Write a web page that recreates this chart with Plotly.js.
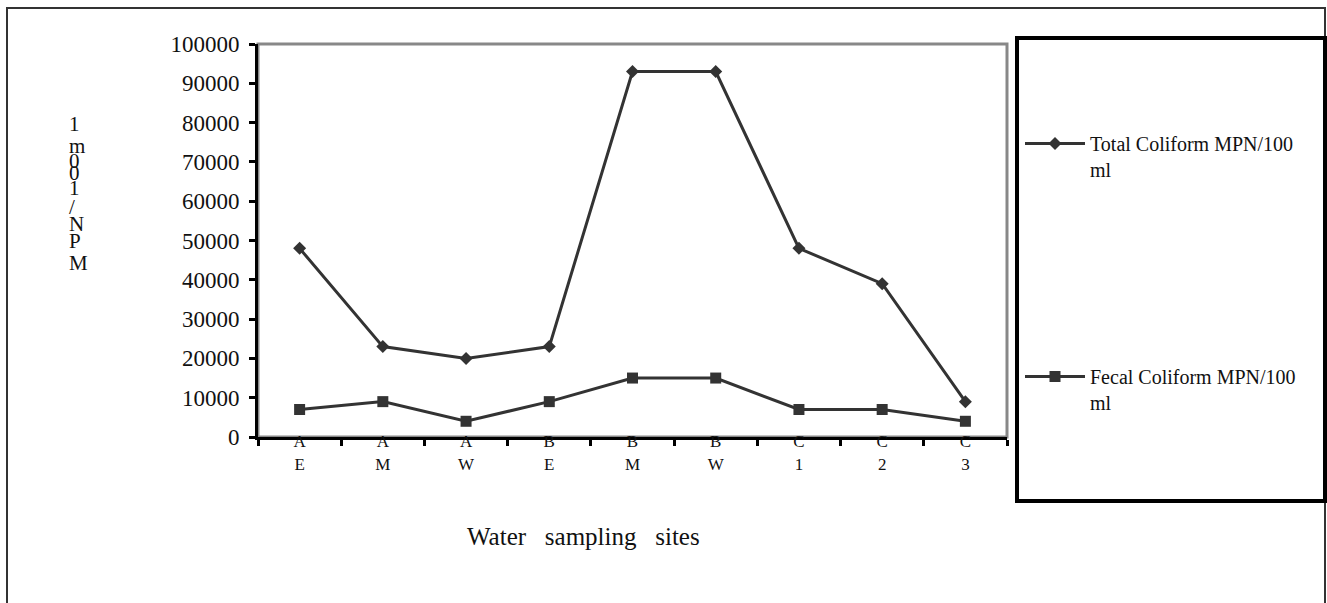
<!DOCTYPE html>
<html>
<head>
<meta charset="utf-8">
<script src="https://cdn.plot.ly/plotly-3.0.1.min.js"></script>
<style>html,body{margin:0;padding:0;background:#fff;}#chart{width:1327px;height:603px;}</style>
</head>
<body>
<div id="chart"></div>
<script>
const categories = ["AE","AM","AW","BE","BM","BW","C1","C2","C3"];
const tickLabels = ["A<br>E","A<br>M","A<br>W","B<br>E","B<br>M","B<br>W","C<br>1","C<br>2","C<br>3"];
const totalColiform = [48000,23000,20000,23000,93000,93000,48000,39000,9000];
const fecalColiform = [7000,9000,4000,9000,15000,15000,7000,7000,4000];
const yTicks = [0,10000,20000,30000,40000,50000,60000,70000,80000,90000,100000];
const yTitleChars = ["1","m","0","0","1","/","N","P","M"];
const yTitleCharPx = [124,146,161,173,188,207,224,241,263];

const serif = "Liberation Serif, Times New Roman, serif";
const lineColor = "#333333";

const traces = [
  {x: categories, y: totalColiform, type: "scatter", mode: "lines+markers",
   name: "Total Coliform MPN/100<br>ml", line: {color: lineColor, width: 3},
   marker: {symbol: "diamond", size: 10, color: lineColor}, legend: "legend"},
  {x: categories, y: fecalColiform, type: "scatter", mode: "lines+markers",
   name: "Fecal Coliform MPN/100<br>ml", line: {color: lineColor, width: 3},
   marker: {symbol: "square", size: 11, color: lineColor}, legend: "legend2"}
];

// plot area in pixels
const L = 258, R = 1007, T = 44, B = 437;
const W = R - L, H = B - T;
const px = v => (v - L) / W;
const py = v => (B - v) / H;

const annotations = yTitleChars.map((c, i) => ({
  text: c, xref: "paper", yref: "paper", x: px(67), y: py(yTitleCharPx[i]),
  xanchor: "left", yanchor: "middle", showarrow: false,
  font: {family: serif, size: 21, color: "#111"}
}));
annotations.push({
  text: "Water&nbsp;&nbsp;&nbsp;sampling&nbsp;&nbsp;&nbsp;sites", xref: "paper", yref: "paper",
  x: px(583), y: py(536), xanchor: "center", yanchor: "middle", showarrow: false,
  font: {family: serif, size: 25, color: "#111"}
});

const legendFont = {family: serif, size: 20, color: "#111"};
const layout = {
  width: 1327, height: 603,
  margin: {l: L, r: 1327 - R, t: T, b: 603 - B, pad: 0},
  paper_bgcolor: "#ffffff", plot_bgcolor: "#ffffff",
  font: {family: serif, color: "#111"},
  showlegend: true,
  legend: {x: px(1020), y: py(124), xanchor: "left", yanchor: "top", valign: "top",
    bgcolor: "rgba(0,0,0,0)", font: legendFont, itemwidth: 60},
  legend2: {x: px(1020), y: py(357), xanchor: "left", yanchor: "top", valign: "top",
    bgcolor: "rgba(0,0,0,0)", font: legendFont, itemwidth: 60},
  xaxis: {
    type: "category", tickmode: "array", tickvals: categories, ticktext: tickLabels,
    tickson: "boundaries", ticks: "outside", ticklen: 6, tickwidth: 3, tickcolor: "#000",
    showline: true, linecolor: "#000", linewidth: 3, showgrid: false, zeroline: false,
    tickfont: {family: serif, size: 17, color: "#111"}, ticklabelstandoff: -13,
    range: [-0.5, 8.5], fixedrange: true
  },
  yaxis: {
    range: [0, 100000], tickmode: "array", tickvals: yTicks, ticktext: yTicks.map(String),
    ticks: "outside", ticklen: 6, tickwidth: 3, tickcolor: "#000",
    showline: true, linecolor: "#000", linewidth: 3, showgrid: false, zeroline: false,
    tickfont: {family: serif, size: 23, color: "#111"}, ticklabelstandoff: 5, fixedrange: true
  },
  shapes: [
    {type: "rect", xref: "paper", yref: "paper", x0: 0, x1: 1, y0: 0, y1: 1,
     line: {color: "#888888", width: 3}, layer: "below"},
    {type: "rect", xref: "paper", yref: "paper", x0: px(7), x1: px(1325), y0: py(640), y1: py(8),
     line: {color: "#333333", width: 2}},
    {type: "rect", xref: "paper", yref: "paper", x0: px(1017), x1: px(1325), y0: py(501), y1: py(38),
     line: {color: "#000000", width: 4}}
  ],
  annotations: annotations
};

Plotly.newPlot("chart", traces, layout, {displayModeBar: false, staticPlot: true});
</script>
</body>
</html>
